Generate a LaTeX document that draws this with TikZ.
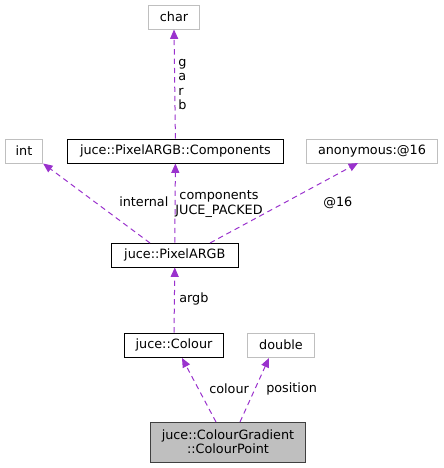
\documentclass[tikz,border=0pt]{standalone}
\usepackage{fontspec}
\setmainfont{DejaVu Sans}
\usetikzlibrary{arrows.meta}

\definecolor{edgecol}{HTML}{9A32CD}
\definecolor{greyline}{HTML}{BFBFBF}

\begin{document}
\begin{tikzpicture}[x=0.75pt, y=-0.75pt,
    font=\fontsize{9.6}{10.8}\selectfont,
    cls/.style={draw=black, line width=0.75pt, fill=white, inner sep=0pt, minimum height=18pt},
    builtin/.style={draw=greyline, line width=0.75pt, fill=white, inner sep=0pt, minimum height=18pt},
    self/.style={draw=black!75, line width=0.75pt, fill=greyline, inner sep=0pt, minimum height=30pt, align=center},
    uses/.style={draw=edgecol, line width=0.75pt, dash pattern=on 4pt off 3pt, -{Triangle[length=7pt,width=6pt]}},
    lbl/.style={inner sep=0pt}]
    \useasboundingbox (0,0) rectangle (443,468);
    % nodes
    \node[builtin, minimum width=38pt] (chr) at (174,17) {char};
    \node[builtin, minimum width=28pt] (int) at (24,151) {int};
    \node[cls, minimum width=162pt] (comp) at (175.4,151) {juce::PixelARGB::Components};
    \node[builtin, minimum width=98pt] (anon) at (372,151) {anonymous:@16};
    \node[cls, minimum width=95pt] (argb) at (174.8,255) {juce::PixelARGB};
    \node[cls, minimum width=74pt] (col) at (174,345) {juce::Colour};
    \node[builtin, minimum width=50pt] (dbl) at (281,345) {double};
    \node[self, minimum width=116pt] (pt) at (228,442) {juce::ColourGradient\\::ColourPoint};
    % edges
    \draw[uses] (comp.north) -- (chr.south);
    \draw[uses] (argb.north) -- (comp.south);
    \draw[uses] (150,243) -- (int.south east);
    \draw[uses] (210,243) -- (358,163);
    \draw[uses] (col.north) -- (argb.south);
    \draw[uses] (216,422) -- (182,358);
    \draw[uses] (240,422) -- (269,358);
    % labels
    \node[lbl, anchor=north west, align=left] (lg) at (178,59) {g\\a\\r\\b};
    \node[lbl, anchor=west] (lint) at (119,202) {internal};
    \node[lbl, align=center] (lcomp) at (219,204) {components\\JUCE\_PACKED};
    \node[lbl, anchor=west] (lanon) at (323,203) {@16};
    \node[lbl, anchor=west] (largb) at (179,299) {argb};
    \node[lbl, anchor=west] (lcol) at (209,389) {colour};
    \node[lbl, anchor=west] (lpos) at (266,389) {position};
\end{tikzpicture}
\end{document}
